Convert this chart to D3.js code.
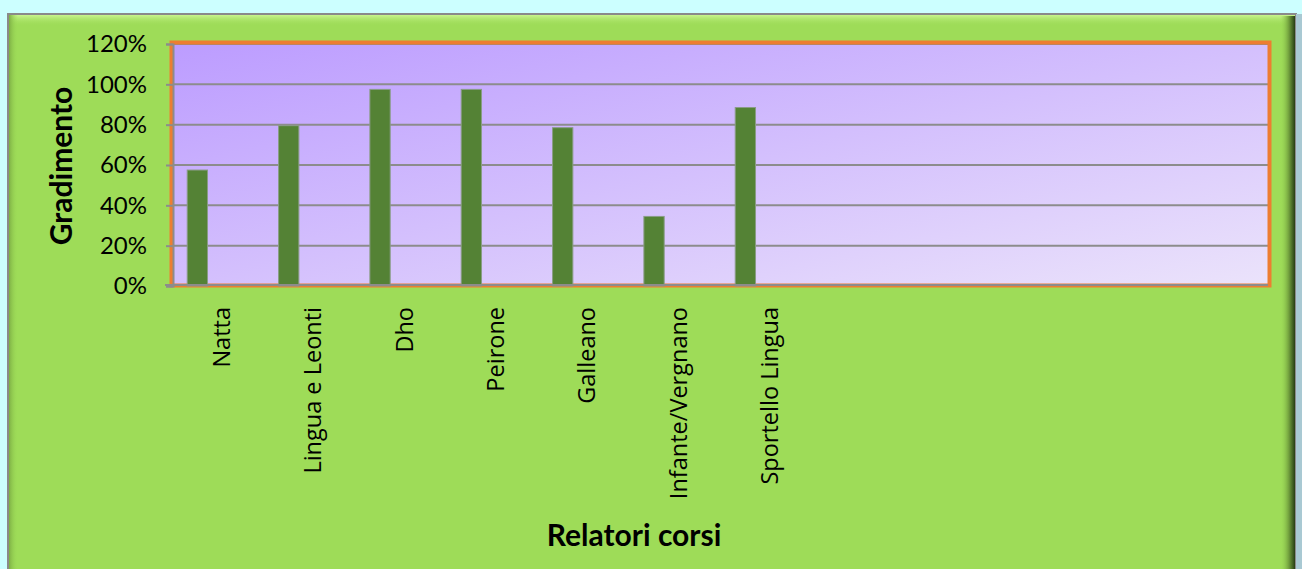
<!doctype html>
<html lang="it">
<head>
<meta charset="utf-8">
<title>Gradimento relatori corsi</title>
<style>
  html, body { margin: 0; padding: 0; background: #ccffff; }
  svg { display: block; }
</style>
<script src="https://d3js.org/d3.v7.min.js"></script>
</head>
<body>
<div id="chart"></div>
<script>
// data
var categories = ["Natta", "Lingua e Leonti", "Dho", "Peirone", "Galleano", "Infante/Vergnano", "Sportello Lingua"];
var values = [0.575, 0.795, 0.975, 0.975, 0.785, 0.345, 0.885];
var emptySlots = 5;              // categories with no data on the right
var series = ["s1", "s2", "s3"]; // only the first one has values
var yTicks = [0, 0.2, 0.4, 0.6, 0.8, 1.0, 1.2];

var W = 1302, H = 569;
var plot = {left: 172, right: 1268, top: 44, bottom: 286};

var svg = d3.select("#chart").append("svg")
  .attr("width", W)
  .attr("height", H);

var defs = svg.append("defs");

// purple plot gradient
var pg = defs.append("linearGradient").attr("id", "plotGrad")
  .attr("x1", "0%").attr("y1", "0%").attr("x2", "100%").attr("y2", "100%");
pg.append("stop").attr("offset", "0%").attr("stop-color", "#bc9cff");
pg.append("stop").attr("offset", "100%").attr("stop-color", "#ebe3fb");

// bevel bits of the green panel
var topBevel = defs.append("linearGradient").attr("id", "topBevel")
  .attr("x1", "0").attr("y1", "0").attr("x2", "0").attr("y2", "1");
topBevel.append("stop").attr("offset", "0%").attr("stop-color", "#c9f58e");
topBevel.append("stop").attr("offset", "100%").attr("stop-color", "#9edc58").attr("stop-opacity", 0);

var rightShade = defs.append("linearGradient").attr("id", "rightShade")
  .attr("x1", "0").attr("y1", "0").attr("x2", "1").attr("y2", "0");
rightShade.append("stop").attr("offset", "0%").attr("stop-color", "#9edc58").attr("stop-opacity", 0);
rightShade.append("stop").attr("offset", "60%").attr("stop-color", "#6f9c3c");
rightShade.append("stop").attr("offset", "100%").attr("stop-color", "#263d14");

var leftShade = defs.append("linearGradient").attr("id", "leftShade")
  .attr("x1", "0").attr("y1", "0").attr("x2", "1").attr("y2", "0");
leftShade.append("stop").attr("offset", "0%").attr("stop-color", "#7eb045");
leftShade.append("stop").attr("offset", "100%").attr("stop-color", "#9edc58").attr("stop-opacity", 0);

// green panel
svg.append("rect")
  .attr("x", 8).attr("y", 14)
  .attr("width", 1288).attr("height", 570)
  .attr("fill", "#9edc58")
  .attr("stroke", "#8a8a8a")
  .attr("stroke-width", 2);
svg.append("rect")
  .attr("x", 9).attr("y", 15).attr("width", 1286).attr("height", 11)
  .attr("fill", "url(#topBevel)");
svg.append("rect")
  .attr("x", 9).attr("y", 15).attr("width", 9).attr("height", 560)
  .attr("fill", "url(#leftShade)");
svg.append("rect")
  .attr("x", 1280).attr("y", 16).attr("width", 15).attr("height", 560)
  .attr("fill", "url(#rightShade)");
svg.append("rect")
  .attr("x", 1296).attr("y", 14).attr("width", 6).attr("height", 560)
  .attr("fill", "#a9c9d3");

// scales
var slots = d3.range(categories.length + emptySlots);
var x = d3.scaleBand()
  .domain(slots)
  .range([plot.left, plot.right]);

var xs = d3.scaleBand()
  .domain(series)
  .range([0, x.bandwidth()])
  .paddingInner(0)
  .paddingOuter(0.75);

var y = d3.scaleLinear()
  .domain([0, 1.2])
  .range([plot.bottom, plot.top]);

// plot area
svg.append("rect")
  .attr("x", plot.left).attr("y", plot.top)
  .attr("width", plot.right - plot.left)
  .attr("height", plot.bottom - plot.top)
  .attr("fill", "url(#plotGrad)");

// gridlines
svg.append("g")
  .selectAll("line")
  .data(yTicks.filter(function(d) { return d > 0; }))
  .enter().append("line")
  .attr("x1", plot.left).attr("x2", plot.right)
  .attr("y1", function(d) { return y(d); })
  .attr("y2", function(d) { return y(d); })
  .attr("stroke", "#8c8c8c")
  .attr("stroke-width", 2);

// orange border
svg.append("rect")
  .attr("x", plot.left - 0.5).attr("y", plot.top - 1.5)
  .attr("width", plot.right - plot.left + 2)
  .attr("height", plot.bottom - plot.top + 1)
  .attr("fill", "none")
  .attr("stroke", "#ed7d31")
  .attr("stroke-width", 4);

// bars
svg.append("g")
  .selectAll("rect")
  .data(values)
  .enter().append("rect")
  .attr("x", function(d, i) { return x(i) + xs("s1"); })
  .attr("width", xs.bandwidth())
  .attr("y", function(d) { return y(d); })
  .attr("height", function(d) { return y(0) - y(d); })
  .attr("fill", "#548235")
  .attr("stroke", "#8a9c86")
  .attr("stroke-width", 1);

// y axis
var yAxis = d3.axisLeft(y)
  .tickValues(yTicks)
  .tickFormat(d3.format(".0%"))
  .tickSize(7)
  .tickPadding(19);

var ya = svg.append("g")
  .attr("transform", "translate(" + (plot.left + 1) + ",0)")
  .call(yAxis);
ya.select(".domain").attr("stroke", "#8c8c8c").attr("stroke-width", 2);
ya.selectAll(".tick line").attr("stroke", "#8c8c8c").attr("stroke-width", 2);
ya.selectAll(".tick text")
  .attr("font-family", "Lato, 'Open Sans', sans-serif")
  .attr("font-size", "24px")
  .attr("fill", "#000");

// x axis
var xAxis = d3.axisBottom(x)
  .tickFormat(function(i) { return categories[i] || ""; })
  .tickSize(0);

var xa = svg.append("g")
  .attr("transform", "translate(0," + (plot.bottom - 1) + ")")
  .call(xAxis);
xa.select(".domain")
  .attr("d", "M" + (plot.left - 7) + ",0H" + plot.right)
  .attr("stroke", "#8c8c8c").attr("stroke-width", 2);
xa.selectAll(".tick text")
  .attr("font-family", "'Open Sans', sans-serif")
  .attr("font-size", "23.5px")
  .attr("fill", "#000")
  .attr("text-anchor", "end")
  .attr("transform", "translate(4,22) rotate(-90)")
  .attr("x", 0)
  .attr("y", 0)
  .attr("dy", "0.35em");

// axis titles
svg.append("text")
  .attr("transform", "translate(72,166) rotate(-90)")
  .attr("text-anchor", "middle")
  .attr("font-family", "Lato, sans-serif")
  .attr("font-weight", "bold")
  .attr("font-size", "30px")
  .text("Gradimento");

svg.append("text")
  .attr("x", 634)
  .attr("y", 546)
  .attr("text-anchor", "middle")
  .attr("font-family", "Lato, sans-serif")
  .attr("font-weight", "bold")
  .attr("font-size", "30px")
  .text("Relatori corsi");
</script>
</body>
</html>
